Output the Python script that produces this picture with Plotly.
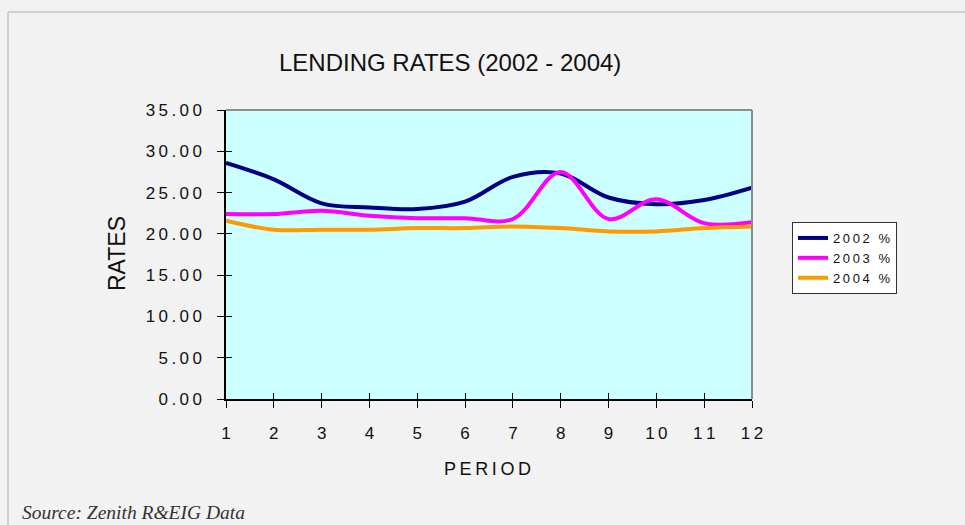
import plotly.graph_objects as go

# Lending rates by period, 2002-2004 (%)
periods = [1, 2, 3, 4, 5, 6, 7, 8, 9, 10, 11, 12]
rates_2002 = [28.6, 26.6, 23.7, 23.2, 23.0, 23.9, 26.9, 27.3, 24.4, 23.6, 24.1, 25.6]
rates_2003 = [22.4, 22.4, 22.8, 22.2, 21.9, 21.9, 21.8, 27.5, 21.8, 24.2, 21.3, 21.4]
rates_2004 = [21.6, 20.5, 20.5, 20.5, 20.7, 20.7, 20.9, 20.7, 20.3, 20.3, 20.7, 20.9]

series_years = ["2002", "2003", "2004"]
series_colors = ["#000080", "#ff00ff", "#ff9900"]

y_ticks = [0, 5, 10, 15, 20, 25, 30, 35]

TS = "\u2009"  # thin space used for the wide letter spacing


def spaced(s):
    return TS.join(list(s))


y_ticktext = [spaced(f"{v:.2f}") for v in y_ticks]
x_ticktext = [spaced(str(p)) for p in periods]

W, H = 965, 525
L, R, T, B = 226, 213, 110, 126
pw, ph = W - L - R, H - T - B


def px_x(x):
    return (x - L) / pw


def px_y(y):
    return (H - B - y) / ph


fig = go.Figure()
for year, vals, col in zip(series_years, [rates_2002, rates_2003, rates_2004], series_colors):
    fig.add_trace(go.Scatter(
        x=periods, y=vals, name=spaced(year) + TS + " " + TS + "%",
        mode="lines", line=dict(color=col, width=4, shape="spline", smoothing=1.0),
        hoverinfo="x+y+name",
    ))

# helper trace so the overlay axes (inner half of the crossing ticks) are drawn
fig.add_trace(go.Scatter(x=[None], y=[None], xaxis="x2", yaxis="y2",
                         showlegend=False, hoverinfo="skip"))

font_main = "Liberation Sans, Arial, sans-serif"

fig.update_layout(
    width=W, height=H,
    margin=dict(l=L, r=R, t=T, b=B, pad=0),
    paper_bgcolor="#f2f2f2",
    plot_bgcolor="#ccffff",
    font=dict(family=font_main, color="#111111"),
    showlegend=True,
    legend=dict(
        x=px_x(792), y=px_y(222), xanchor="left", yanchor="top",
        bgcolor="#ffffff", bordercolor="#333333", borderwidth=1,
        font=dict(size=13, family=font_main, color="#111111"),
        itemwidth=30, tracegroupgap=0,
    ),
    xaxis=dict(
        range=[1, 12], tickvals=periods, ticktext=x_ticktext,
        ticks="outside", ticklen=7, tickcolor="#000000", tickwidth=1,
        showline=True, linecolor="#000000", linewidth=1.5,
        showgrid=False, zeroline=False, ticklabelstandoff=11,
        tickfont=dict(size=17, color="#111111"),
    ),
    yaxis=dict(
        range=[0, 35], tickvals=y_ticks, ticktext=y_ticktext,
        ticks="outside", ticklen=7, tickcolor="#000000", tickwidth=1,
        showline=True, linecolor="#000000", linewidth=1.5,
        showgrid=False, zeroline=False, ticklabelstandoff=12,
        tickfont=dict(size=17, color="#111111"),
    ),
    xaxis2=dict(
        overlaying="x", range=[1, 12], tickvals=periods, ticks="inside",
        ticklen=6, tickcolor="#000000", showticklabels=False,
        showline=False, showgrid=False, zeroline=False,
    ),
    yaxis2=dict(
        overlaying="y", range=[0, 35], tickvals=y_ticks, ticks="inside",
        ticklen=6, tickcolor="#000000", showticklabels=False,
        showline=False, showgrid=False, zeroline=False,
    ),
)

# outer frame and the grey top/right border of the plot area
fig.add_shape(type="line", xref="paper", yref="paper",
              x0=px_x(8), x1=px_x(980), y0=px_y(12), y1=px_y(12),
              line=dict(color="#c4c4c4", width=1.5))
fig.add_shape(type="line", xref="paper", yref="paper",
              x0=px_x(8), x1=px_x(8), y0=px_y(12), y1=px_y(540),
              line=dict(color="#c4c4c4", width=1.5))
fig.add_shape(type="line", xref="paper", yref="paper",
              x0=0, x1=1, y0=1, y1=1, line=dict(color="#8c8c8c", width=2))
fig.add_shape(type="line", xref="paper", yref="paper",
              x0=1, x1=1, y0=0, y1=1, line=dict(color="#8c8c8c", width=2))

fig.add_annotation(text="LENDING RATES (2002 - 2004)", xref="paper", yref="paper",
                   x=px_x(450), y=px_y(63), xanchor="center", yanchor="middle",
                   showarrow=False, font=dict(size=24, family=font_main, color="#111111"))
fig.add_annotation(text="RATES", xref="paper", yref="paper", textangle=-90,
                   x=px_x(117), y=px_y(254), xanchor="center", yanchor="middle",
                   showarrow=False, font=dict(size=23, family=font_main, color="#111111"))
fig.add_annotation(text=spaced("PERIOD"), xref="paper", yref="paper",
                   x=px_x(487), y=px_y(469), xanchor="center", yanchor="middle",
                   showarrow=False, font=dict(size=18, family=font_main, color="#111111"))
fig.add_annotation(text="<i>Source: Zenith R&amp;EIG Data</i>", xref="paper", yref="paper",
                   x=px_x(20), y=px_y(512), xanchor="left", yanchor="middle",
                   showarrow=False,
                   font=dict(size=19.5, family="Liberation Serif, Times New Roman, serif",
                             color="#333333"))

fig.write_html("out.html")
